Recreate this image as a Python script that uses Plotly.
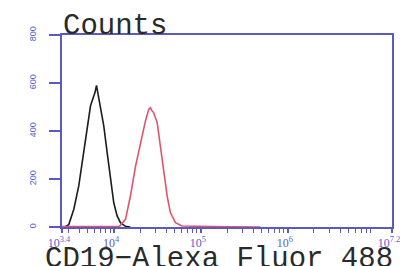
import numpy as np
import plotly.graph_objects as go

# ---- data (log10 fluorescence, counts) ----
control_log = [3.400, 3.440, 3.478, 3.536, 3.593, 3.651, 3.690, 3.728, 3.766, 3.780, 3.797,
               3.812, 3.826, 3.843, 3.881, 3.920, 3.958, 3.996, 4.035, 4.073, 4.131, 4.188]
control_counts = [0, 2, 10, 74, 171, 310, 407, 504, 546, 560, 590,
                  560, 548, 504, 421, 310, 199, 101, 46, 18, 3, 0]

cd19_log = [3.400, 3.843, 4.016, 4.062, 4.131, 4.188, 4.247, 4.303, 4.361, 4.399, 4.418,
            4.438, 4.453, 4.496, 4.534, 4.571, 4.611, 4.648, 4.706, 4.783, 4.994, 5.339, 5.684]
cd19_counts = [2, 2, 2, 3, 32, 129, 254, 351, 442, 490, 497,
               483, 478, 435, 338, 226, 129, 60, 18, 4, 2, 1, 0]

x_tick_exps = [3.4, 4, 5, 6, 7.2]
x_tick_text = ["10<sup>3.4</sup>", "10<sup>4</sup>", "10<sup>5</sup>", "10<sup>6</sup>", "10<sup>7.2</sup>"]
y_ticks = [0, 200, 400, 600, 800]
minor_mults = [2, 3, 4, 5, 6, 7, 8, 9]
minor_decades = [3, 4, 5, 6, 7]

axis_blue = "#5a5ac0"
label_blue = "#5c5cd0"

fig = go.Figure()
fig.add_trace(go.Scatter(x=np.power(10.0, control_log), y=control_counts, mode="lines",
                         line=dict(color="#1c1c1c", width=1.6), showlegend=False))
fig.add_trace(go.Scatter(x=np.power(10.0, cd19_log), y=cd19_counts, mode="lines",
                         line=dict(color="#e2536c", width=1.6), showlegend=False))

minor_vals = [m * 10.0 ** d for d in minor_decades for m in minor_mults
              if 3.4 <= np.log10(m * 10.0 ** d) <= 7.2]

fig.update_xaxes(type="log", range=[3.4, 7.2], automargin=False,
                 tickmode="array", tickvals=[10.0 ** e for e in x_tick_exps], ticktext=x_tick_text,
                 ticks="outside", ticklen=4, tickcolor=axis_blue, tickwidth=1.5,
                 ticklabelstandoff=0, ticklabelshift=-3,
                 tickfont=dict(family="Liberation Serif", size=12, color=label_blue),
                 showline=True, linecolor=axis_blue, linewidth=2, mirror=True,
                 showgrid=False, zeroline=False,
                 minor=dict(tickmode="array", tickvals=minor_vals, ticks="outside", ticklen=4,
                            tickcolor=axis_blue, tickwidth=1.2, showgrid=False))
fig.update_yaxes(range=[0, 800], tickmode="array", tickvals=y_ticks, automargin=False,
                 ticks="outside", ticklen=11, tickcolor=axis_blue, tickwidth=1.5,
                 tickangle=-90, ticklabelstandoff=9,
                 tickfont=dict(family="Liberation Sans", size=9, color=label_blue),
                 showline=True, linecolor=axis_blue, linewidth=2, mirror=True,
                 showgrid=False, zeroline=False)

fig.add_annotation(text="Counts", xref="paper", yref="paper", x=-0.003, y=1.044,
                   xanchor="left", yanchor="middle", showarrow=False,
                   font=dict(family="Liberation Mono", size=29, color="#2a2a2a"))
fig.add_annotation(text="CD19\u2212Alexa Fluor 488", xref="paper", yref="paper",
                   x=(219 - 61.5) / 330.2, y=-0.17,
                   xanchor="center", yanchor="middle", showarrow=False,
                   font=dict(family="Liberation Mono", size=29, color="#2a2a2a"))

fig.update_layout(width=404, height=266,
                  margin=dict(l=61.5, r=12.3, t=35, b=39.3, pad=0),
                  paper_bgcolor="white", plot_bgcolor="white")

fig.write_html("out.html", config={"displayModeBar": False},
               post_script="document.body.style.margin='0';")
